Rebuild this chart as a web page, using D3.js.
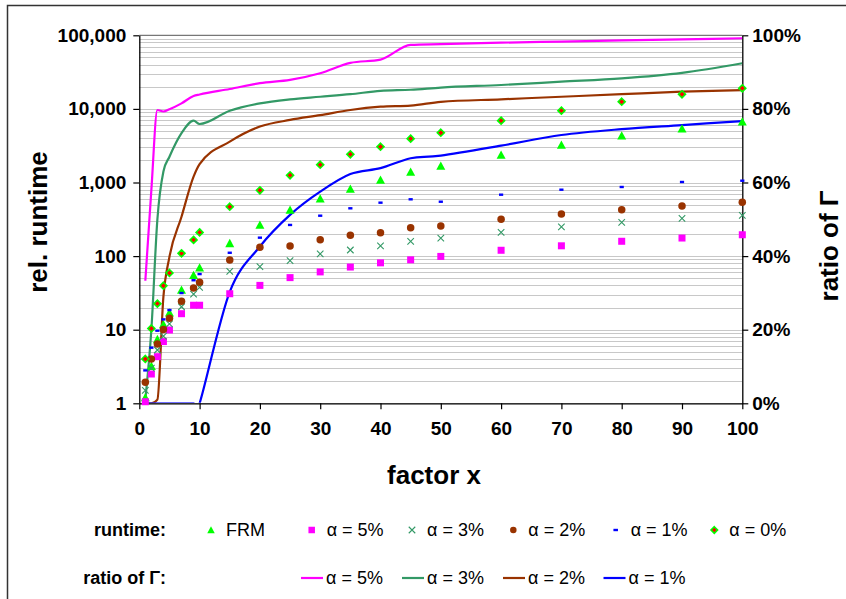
<!DOCTYPE html>
<html>
<head>
<meta charset="utf-8">
<script src="https://cdn.jsdelivr.net/npm/d3@7"></script>
<style>
  html, body { margin: 0; padding: 0; background: #fff; }
  svg { display: block; }
  text { font-family: "Liberation Sans", Arial, Helvetica, sans-serif; fill: #000; }
</style>
</head>
<body>
<svg id="chart" width="846" height="599"></svg>
<script>
// factor x at which runtimes and ratios were measured
const factors = [1, 2, 3, 4, 5, 7, 9, 10, 15, 20, 25, 30, 35, 40, 45, 50, 60, 70, 80, 90, 100];

// relative runtime (left, log axis)
const runtimeFRM = [1.2, 3.2, 7.4, 11.8, 17, 34.6, 55, 69.6, 149, 265, 423, 602, 816, 1081, 1389, 1675, 2364, 3230, 4324, 5383, 6700];
const runtimeA5 = [1.05, 2.5, 4.3, 6.9, 9.9, 16.5, 21.5, 21.5, 30.8, 40, 51, 61, 71, 81, 89, 99, 120, 138, 159, 176, 195];
const runtimeA3 = [1.5, 3.0, 5.3, 8.2, 12, 20.5, 30.5, 37.7, 62, 72, 87, 107, 121, 138, 159, 175, 210, 249, 288, 326, 358];
const runtimeA2 = [1.93, 4.0, 6.4, 10.1, 14.3, 24.3, 36.9, 44, 88.5, 132, 137, 167, 192, 208, 243, 256, 316, 373, 427, 480, 538];
const runtimeA1 = [2.8, 5.7, 9.7, 13.8, 18.5, 31.5, 47, 57, 111, 178, 265, 354, 446, 532, 591, 548, 683, 798, 869, 1016, 1058];
const runtimeA0 = [4, 10.4, 22.6, 39.6, 59, 109, 166, 210, 469, 784, 1253, 1745, 2416, 3064, 3938, 4750, 6916, 9460, 12530, 15790, 19050];

// ratio of Gamma in percent (right axis)
const ratioA5 = [33.3, 58, 79.7, 79.3, 79.9, 81.5, 83.5, 83.9, 85.4, 87.0, 87.9, 89.7, 92.5, 93.4, 97.4, 97.6, 98.0, 98.3, 98.6, 98.9, 99.2];
const ratioA3 = [1, 20, 50, 63, 67, 73.4, 76.8, 75.9, 79.5, 81.5, 82.6, 83.3, 84.0, 84.9, 85.2, 85.8, 86.5, 87.4, 88.3, 89.8, 92.4];
const ratioA2 = [0, 0, 1, 29, 39.8, 50.7, 61.6, 65, 71.1, 75.2, 77, 78.3, 79.7, 80.6, 80.9, 81.9, 82.6, 83.3, 84.0, 84.7, 85.1];
const ratioA1 = [0, 0, 0, 0, 0, 0, 0, 0, 30.3, 42.6, 51.2, 57.5, 62.3, 63.9, 66.6, 67.3, 70, 72.9, 74.5, 75.6, 76.7];

// tick values
const xTicks = [0, 10, 20, 30, 40, 50, 60, 70, 80, 90, 100];
const leftTicks = [1, 10, 100, 1000, 10000, 100000];
const rightTicks = [0, 20, 40, 60, 80, 100];

// legend labels
const runtimeLabels = ["FRM", "α = 5%", "α = 3%", "α = 2%", "α = 1%", "α = 0%"];
const ratioLabels = ["α = 5%", "α = 3%", "α = 2%", "α = 1%"];

const FONT = '"Liberation Sans", Arial, Helvetica, sans-serif';
const svg = d3.select("#chart");

// outer frame of the chart
svg.append("rect")
  .attr("x", 7.5).attr("y", 5.5).attr("width", 900).attr("height", 700)
  .attr("fill", "#fff").attr("stroke", "#333").attr("stroke-width", 1.5);

const plot = { left: 139.3, right: 742.3, top: 35.3, bottom: 403.3 };

const x = d3.scaleLinear().domain([0, 100]).range([plot.left, plot.right]);
const yL = d3.scaleLog().domain([1, 100000]).range([plot.bottom, plot.top]);
const yR = d3.scaleLinear().domain([0, 100]).range([plot.bottom, plot.top]);

svg.append("defs").append("clipPath").attr("id", "plotClip")
  .append("rect").attr("x", plot.left).attr("y", plot.top - 2)
  .attr("width", plot.right - plot.left).attr("height", plot.bottom - plot.top + 1.5);

// log gridlines at every minor step
const gridVals = [];
for (let d = 1; d < 100000; d *= 10) for (let k = 1; k <= 9; k++) gridVals.push(k * d);
svg.append("g").selectAll("line").data(gridVals).join("line")
  .attr("x1", plot.left).attr("x2", plot.right)
  .attr("y1", d => Math.round(yL(d)) + 0.5).attr("y2", d => Math.round(yL(d)) + 0.5)
  .attr("stroke", "#c8c8c8").attr("stroke-width", 1);
svg.append("line")
  .attr("x1", plot.left).attr("x2", plot.right)
  .attr("y1", yL(100000)).attr("y2", yL(100000))
  .attr("stroke", "#777").attr("stroke-width", 1.2);

// axes
const axisStyle = g => {
  g.selectAll(".domain").attr("stroke", "#000").attr("stroke-width", 1.3);
  g.selectAll(".tick line").attr("stroke", "#000").attr("stroke-width", 1.2);
  g.selectAll(".tick text").attr("font-family", FONT).attr("font-weight", "bold").attr("font-size", 19).attr("fill", "#000");
};

svg.append("g").attr("transform", `translate(${plot.left},0)`)
  .call(d3.axisLeft(yL).tickValues(leftTicks).tickFormat(d3.format(",")).tickSizeInner(6).tickSizeOuter(0).tickPadding(7))
  .call(axisStyle);

svg.append("g").attr("transform", `translate(${plot.right},0)`)
  .call(d3.axisRight(yR).tickValues(rightTicks).tickFormat(d => d + "%").tickSizeInner(6).tickSizeOuter(0).tickPadding(4))
  .call(axisStyle);

svg.append("g").attr("transform", `translate(0,${plot.bottom})`)
  .call(d3.axisBottom(x).tickValues(xTicks).tickSizeInner(6).tickSizeOuter(0).tickPadding(12))
  .call(axisStyle);

// axis titles
svg.append("text").attr("transform", "translate(38,222) rotate(-90)")
  .attr("text-anchor", "middle").attr("dominant-baseline", "central")
  .attr("font-weight", "bold").attr("font-size", 26).text("rel. runtime");
svg.append("text").attr("x", 434).attr("y", 475)
  .attr("text-anchor", "middle").attr("dominant-baseline", "central")
  .attr("font-weight", "bold").attr("font-size", 26).text("factor x");
svg.append("text").attr("transform", "translate(829,246) rotate(-90)")
  .attr("text-anchor", "middle").attr("dominant-baseline", "central")
  .attr("font-weight", "bold").attr("font-size", 26).text("ratio of Γ");

// marker drawing
function marker(g, type, cx, cy, s) {
  const h = s / 2;
  switch (type) {
    case "triangle":
      g.append("path").attr("d", `M${cx},${cy - h}L${cx + h},${cy + h * 0.85}L${cx - h},${cy + h * 0.85}Z`).attr("fill", "#00ff00");
      break;
    case "square":
      g.append("rect").attr("x", cx - h).attr("y", cy - h).attr("width", s).attr("height", s).attr("fill", "#ff00ff");
      break;
    case "cross":
      g.append("path").attr("d", `M${cx - h},${cy - h}L${cx + h},${cy + h}M${cx - h},${cy + h}L${cx + h},${cy - h}`)
        .attr("stroke", "#339966").attr("stroke-width", 1.1).attr("fill", "none");
      break;
    case "circle":
      g.append("circle").attr("cx", cx).attr("cy", cy).attr("r", h).attr("fill", "#993300");
      break;
    case "dash":
      g.append("rect").attr("x", cx - s * 0.35).attr("y", cy - 1.2).attr("width", s * 0.7).attr("height", 2.4).attr("fill", "#0000ff");
      break;
    case "diamond":
      g.append("path").attr("d", `M${cx},${cy - h}L${cx + h},${cy}L${cx},${cy + h}L${cx - h},${cy}Z`)
        .attr("fill", "#ff0000").attr("stroke", "#00ff00").attr("stroke-width", 1.6);
      break;
  }
}

// ratio lines (right axis), smoothed
const ratioSeries = [
  { vals: ratioA5, color: "#ff00ff", curve: d3.curveMonotoneX },
  { vals: ratioA3, color: "#339966", curve: d3.curveMonotoneX },
  { vals: ratioA2, color: "#993300", curve: d3.curveMonotoneX },
  { vals: ratioA1, color: "#0000ff", curve: d3.curveCatmullRom.alpha(0) }
];
svg.append("g").attr("clip-path", "url(#plotClip)")
  .selectAll("path").data(ratioSeries).join("path")
  .attr("d", s => d3.line().x(d => x(d[0])).y(d => yR(d[1])).curve(s.curve)(factors.map((f, i) => [f, s.vals[i]])))
  .attr("fill", "none").attr("stroke", s => s.color).attr("stroke-width", 2.2)
  .attr("stroke-linejoin", "round");

// runtime markers (left axis)
const runtimeSeries = [
  { vals: runtimeFRM, type: "triangle", size: 9 },
  { vals: runtimeA5, type: "square", size: 7 },
  { vals: runtimeA3, type: "cross", size: 6.5 },
  { vals: runtimeA2, type: "circle", size: 7.5 },
  { vals: runtimeA1, type: "dash", size: 6 },
  { vals: runtimeA0, type: "diamond", size: 7 }
];
const mk = svg.append("g");
runtimeSeries.forEach(s => {
  factors.forEach((f, i) => marker(mk, s.type, x(f), yL(s.vals[i]), s.size));
});

// legend
const leg = svg.append("g");
const row1 = 530, row2 = 578;
leg.append("text").attr("x", 166).attr("y", row1).attr("text-anchor", "end").attr("dominant-baseline", "central")
  .attr("font-weight", "bold").attr("font-size", 18).text("runtime:");
leg.append("text").attr("x", 166).attr("y", row2).attr("text-anchor", "end").attr("dominant-baseline", "central")
  .attr("font-weight", "bold").attr("font-size", 18).text("ratio of Γ:");

const runtimeMarkX = [211, 311.7, 412, 513.3, 615.7, 714.3];
runtimeSeries.forEach((s, i) => {
  marker(leg, s.type, runtimeMarkX[i], row1, s.type === "triangle" ? 7.5 : 6.5);
  leg.append("text").attr("x", runtimeMarkX[i] + 15).attr("y", row1).attr("dominant-baseline", "central")
    .attr("font-size", 18).text(runtimeLabels[i]);
});

const ratioLineX = [301, 402, 503, 603.5];
ratioSeries.forEach((s, i) => {
  leg.append("line").attr("x1", ratioLineX[i]).attr("x2", ratioLineX[i] + 22).attr("y1", row2).attr("y2", row2)
    .attr("stroke", s.color).attr("stroke-width", 2.2);
  leg.append("text").attr("x", ratioLineX[i] + 25).attr("y", row2).attr("dominant-baseline", "central")
    .attr("font-size", 18).text(ratioLabels[i]);
});
</script>
</body>
</html>
